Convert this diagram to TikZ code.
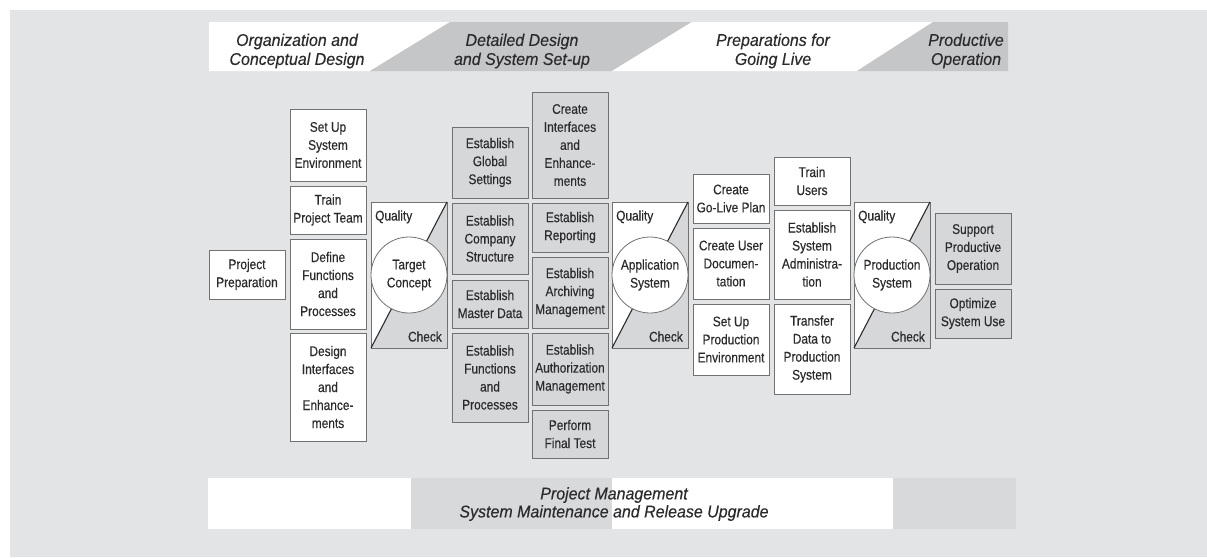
\documentclass[tikz,border=0pt]{standalone}
\usepackage{fontspec}
\setmainfont{Liberation Sans}[FakeStretch=0.85, FakeBold=0.35]
\newfontfamily\hdfont{Liberation Sans}[FakeStretch=0.94, FakeBold=0.3]
\definecolor{panel}{HTML}{E3E4E6}
\definecolor{hdgray}{HTML}{C5C6C8}
\definecolor{boxgray}{HTML}{D6D7D9}
\definecolor{bandgray}{HTML}{D8D9DB}
\definecolor{edge}{HTML}{707173}
\definecolor{ink}{HTML}{2B2B2D}
\newcommand\taskbox[7]{%
  \node[#6, minimum width={(#4)-(#2)}, minimum height={(#5)-(#3)}] (#1)
    at ({((#2)+(#4))/2},{((#3)+(#5))/2}) {#7};}
\newcommand\qgate[6]{%
  \fill[white] (#2,#3) -- (#4,#3) -- (#2,#5) -- cycle;
  \fill[boxgray] (#4,#3) -- (#4,#5) -- (#2,#5) -- cycle;
  \draw[draw=edge, line width=0.8pt] (#2,#3) rectangle (#4,#5);
  \draw[draw=ink, line width=1.1pt] (#2,#5) -- (#4,#3);
  \node[circlenode] (#1) at ({((#2)+(#4))/2},{((#3)+(#5))/2}) {#6};
  \node[gatelabel, anchor=base west] (#1q) at ({(#2)+4},{(#3)+18.5}) {Quality};
  \node[gatelabel, anchor=base east] (#1c) at ({(#4)-5},{(#5)-6.5}) {Check};}
\begin{document}
\begin{tikzpicture}[x=1pt,y=-1pt,
  every node/.style={text=ink},
  task/.style={draw=edge, line width=0.8pt, inner sep=0pt, align=center,
    font=\fontsize{14}{18}\selectfont},
  wbox/.style={task, fill=white},
  gbox/.style={task, fill=boxgray},
  circlenode/.style={circle, draw=edge, line width=0.8pt, fill=white,
    minimum size=76pt, inner sep=0pt, align=center, font=\fontsize{14}{18}\selectfont},
  gatelabel/.style={inner sep=0pt, font=\fontsize{14}{18}\selectfont},
  hdtext/.style={inner sep=0pt, align=center, font=\hdfont\itshape\fontsize{17}{19}\selectfont}
]
\useasboundingbox (0,0) rectangle (1207,557);
\fill[white] (0,0) rectangle (1207,557);
\fill[panel] (10,10) rectangle (1207,557);

% header phases
\fill[white] (209,22) -- (450,22) -- (370,71) -- (209,71) -- cycle;
\fill[hdgray] (450,22) -- (692,22) -- (612,71) -- (370,71) -- cycle;
\fill[white] (692,22) -- (933,22) -- (857,71) -- (612,71) -- cycle;
\fill[hdgray] (933,22) -- (1008,22) -- (1008,71) -- (857,71) -- cycle;
\node[hdtext] (h1) at (297,51) {Organization and\\Conceptual Design};
\node[hdtext] (h2) at (522,51) {Detailed Design\\and System Set-up};
\node[hdtext] (h3) at (773,51) {Preparations for\\Going Live};
\node[hdtext] (h4) at (966,51) {Productive\\Operation};

% column 0
\taskbox{pp}{209}{250}{285}{299}{wbox}{Project\\Preparation}
% column 1
\taskbox{su}{290}{109}{366}{181}{wbox}{Set Up\\System\\Environment}
\taskbox{tp}{290}{186}{366}{234}{wbox}{Train\\Project Team}
\taskbox{df}{290}{239}{366}{329}{wbox}{Define\\Functions\\and\\Processes}
\taskbox{di}{290}{333}{366}{441}{wbox}{Design\\Interfaces\\and\\Enhance-\\ments}
% gate 1
\qgate{g1}{371}{202}{447}{348}{Target\\Concept}
% column 3
\taskbox{gs}{452}{127}{528}{198}{gbox}{Establish\\Global\\Settings}
\taskbox{cs}{452}{203}{528}{274}{gbox}{Establish\\Company\\Structure}
\taskbox{md}{452}{280}{528}{328}{gbox}{Establish\\Master Data}
\taskbox{fp}{452}{333}{528}{422}{gbox}{Establish\\Functions\\and\\Processes}
% column 4
\taskbox{ci}{532}{92}{608}{198}{gbox}{Create\\Interfaces\\and\\Enhance-\\ments}
\taskbox{er}{532}{203}{608}{252}{gbox}{Establish\\Reporting}
\taskbox{am}{532}{257}{608}{328}{gbox}{Establish\\Archiving\\Management}
\taskbox{au}{532}{333}{608}{405}{gbox}{Establish\\Authorization\\Management}
\taskbox{ft}{532}{410}{608}{458}{gbox}{Perform\\Final Test}
% gate 2
\qgate{g2}{612}{202}{688}{348}{Application\\System}
% column 5
\taskbox{gl}{693}{174}{769}{223}{wbox}{Create\\Go-Live Plan}
\taskbox{ud}{693}{228}{769}{299}{wbox}{Create User\\Documen-\\tation}
\taskbox{pe}{693}{304}{769}{375}{wbox}{Set Up\\Production\\Environment}
% column 6
\taskbox{tu}{774}{157}{850}{205}{wbox}{Train\\Users}
\taskbox{sa}{774}{210}{850}{299}{wbox}{Establish\\System\\Administra-\\tion}
\taskbox{td}{774}{304}{850}{394}{wbox}{Transfer\\Data to\\Production\\System}
% gate 3
\qgate{g3}{854}{202}{930}{348}{Production\\System}
% column 7
\taskbox{sp}{935}{213}{1011}{284}{gbox}{Support\\Productive\\Operation}
\taskbox{os}{935}{289}{1011}{338}{gbox}{Optimize\\System Use}

% bottom band
\fill[white] (208,478) rectangle (411,529);
\fill[bandgray] (411,478) rectangle (612,529);
\fill[white] (612,478) rectangle (893,529);
\fill[bandgray] (893,478) rectangle (1016,529);
\node[hdtext, font=\hdfont\itshape\fontsize{17}{18}\selectfont] (pm) at (614,504)
  {Project Management\\System Maintenance and Release Upgrade};
\end{tikzpicture}
\end{document}
